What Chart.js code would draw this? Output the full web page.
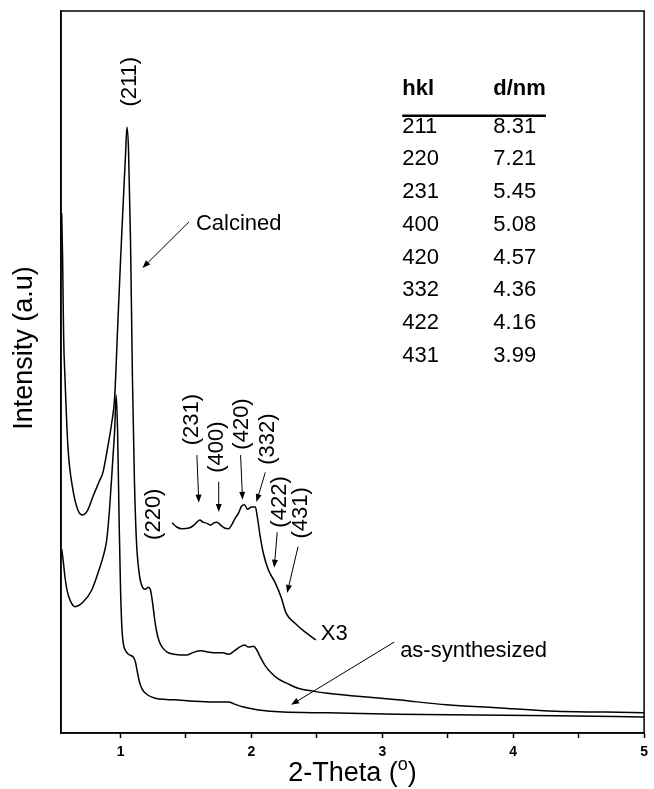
<!DOCTYPE html>
<html>
<head>
<meta charset="utf-8">
<script src="https://cdn.jsdelivr.net/npm/chart.js@4.4.0/dist/chart.umd.min.js"></script>
<style>
  html, body { margin: 0; padding: 0; background: #fff; }
  canvas { display: block; }
</style>
</head>
<body>
<canvas id="xrdChart" width="654" height="789"></canvas>
<script>
// 2-theta (deg) / intensity (a.u., plotted on a 0-100 scale)
const calcinedX = [0.55, 0.557, 0.565, 0.576, 0.598, 0.636, 0.674, 0.712, 0.750, 0.788, 0.841, 0.864, 0.902, 0.932, 0.955,
  0.977, 1.000, 1.023, 1.038, 1.049, 1.061, 1.076, 1.091, 1.106, 1.121, 1.144, 1.167, 1.189, 1.212, 1.227, 1.242, 1.258,
  1.273, 1.295, 1.318, 1.356, 1.409, 1.462, 1.508, 1.561, 1.614, 1.674, 1.727, 1.780, 1.826, 1.871, 1.909, 1.947, 1.977,
  2.015, 2.038, 2.068, 2.106, 2.152, 2.205, 2.280, 2.356, 2.470, 2.583, 2.811, 3.114, 3.492, 3.871, 4.326, 4.705, 5.0];
const calcinedY = [72, 66, 55, 48.9, 39.6, 33.7, 30.9, 30.2, 30.9, 32.7, 35.0, 36.0, 39.6, 42.9, 46.5,
  55.8, 65.5, 74.5, 80.1, 83.9, 80.7, 68.3, 48.9, 35.0, 26.7, 21.9, 20.2, 19.9, 20.2, 19.9, 18.4, 16.1,
  14.3, 12.7, 11.9, 11.2, 10.9, 10.8, 10.8, 11.2, 11.4, 11.2, 11.1, 11.1, 10.9, 11.4, 11.9, 12.2, 11.9,
  12.0, 11.6, 10.5, 9.3, 8.3, 7.5, 6.8, 6.2, 5.8, 5.5, 5.1, 4.6, 3.9, 3.5, 3.0, 2.9, 2.8];

const asSynthX = [0.55, 0.561, 0.576, 0.591, 0.614, 0.652, 0.712, 0.780, 0.841, 0.871, 0.894, 0.917, 0.939, 0.955, 0.966,
  0.977, 0.989, 1.000, 1.011, 1.023, 1.038, 1.061, 1.083, 1.098, 1.114, 1.129, 1.144, 1.167, 1.197, 1.235, 1.295, 1.409,
  1.561, 1.712, 1.826, 1.871, 1.939, 2.053, 2.242, 2.583, 3.114, 3.720, 4.326, 5.0];
const asSynthY = [25.5, 24.0, 21.5, 19.8, 18.4, 17.5, 18.1, 19.8, 22.9, 24.7, 26.7, 31.3, 37.4, 42.0, 46.8,
  42.0, 29.5, 19.8, 14.3, 12.2, 11.4, 10.9, 10.7, 10.5, 9.8, 8.4, 7.1, 6.0, 5.4, 5.0, 4.7, 4.6,
  4.4, 4.3, 4.3, 4.0, 3.6, 3.2, 2.9, 2.8, 2.6, 2.5, 2.4, 2.2];

// calcined pattern between 1.4 and 2.5 deg, magnified x3 and offset
const x3X = [1.394, 1.432, 1.470, 1.523, 1.561, 1.583, 1.606, 1.629, 1.652, 1.689, 1.712, 1.735, 1.765, 1.795, 1.826,
  1.848, 1.871, 1.902, 1.924, 1.947, 1.970, 2.000, 2.030, 2.045, 2.068, 2.091, 2.129, 2.182, 2.227, 2.265, 2.333, 2.409, 2.492];
const x3Y = [29.1, 28.5, 28.3, 28.4, 28.8, 29.2, 29.5, 29.2, 29.1, 28.8, 29.1, 29.2, 28.8, 28.4, 28.3,
  28.8, 29.6, 30.5, 31.4, 31.6, 31.0, 31.3, 31.3, 29.9, 27.1, 24.9, 22.6, 20.8, 18.8, 16.6, 15.2, 14.0, 12.9];

const xTicks = [1, 1.5, 2, 2.5, 3, 3.5, 4, 4.5, 5];

// peak labels: text, label centre (x, y), arrow start, arrow end
const peakNames = ['(211)', '(220)', '(231)', '(400)', '(420)', '(332)', '(422)', '(431)'];
const peakLabelX = [1.068, 1.258, 1.545, 1.735, 1.924, 2.129, 2.220, 2.379];
const peakLabelY = [90.2, 30.3, 43.4, 39.6, 42.8, 40.7, 32.0, 30.5];
const peakArrows = [null, null,
  [1.583, 38.5, 1.598, 31.9],
  [1.750, 34.8, 1.750, 30.6],
  [1.917, 38.5, 1.932, 32.3],
  [2.106, 36.1, 2.038, 32.0],
  [2.197, 27.8, 2.174, 22.9],
  [2.356, 25.8, 2.273, 19.4]];

// inset table
const hklRows = ['211', '220', '231', '400', '420', '332', '422', '431'];
const dRows = ['8.31', '7.21', '5.45', '5.08', '4.57', '4.36', '4.16', '3.99'];

const FONT = 'Arial, "Liberation Sans", Helvetica, sans-serif';

function toPoints(xs, ys) {
  return xs.map((x, i) => ({ x: x, y: ys[i] }));
}

function drawArrow(ctx, x1, y1, x2, y2) {
  const ang = Math.atan2(y2 - y1, x2 - x1);
  const len = 8, half = 3;
  ctx.beginPath();
  ctx.moveTo(x1, y1);
  ctx.lineTo(x2 - Math.cos(ang) * len * 0.6, y2 - Math.sin(ang) * len * 0.6);
  ctx.stroke();
  ctx.beginPath();
  ctx.moveTo(x2, y2);
  ctx.lineTo(x2 - Math.cos(ang) * len - Math.sin(ang) * half, y2 - Math.sin(ang) * len + Math.cos(ang) * half);
  ctx.lineTo(x2 - Math.cos(ang) * len + Math.sin(ang) * half, y2 - Math.sin(ang) * len - Math.cos(ang) * half);
  ctx.closePath();
  ctx.fill();
}

const annotations = {
  id: 'annotations',
  afterDraw(chart) {
    const ctx = chart.ctx;
    const xs = chart.scales.x, ys = chart.scales.y;
    const px = v => xs.getPixelForValue(v);
    const py = v => ys.getPixelForValue(v);
    const area = chart.chartArea;

    ctx.save();
    ctx.strokeStyle = '#000';
    ctx.fillStyle = '#000';

    // frame
    ctx.lineWidth = 1.5;
    ctx.strokeRect(area.left, area.top, area.right - area.left, area.bottom - area.top);

    // axis titles
    ctx.font = '27px ' + FONT;
    ctx.textBaseline = 'middle';
    ctx.textAlign = 'center';
    ctx.save();
    ctx.translate(25, 348);
    ctx.rotate(-Math.PI / 2);
    ctx.fillText('Intensity (a.u)', 0, 0);
    ctx.restore();

    ctx.textBaseline = 'alphabetic';
    ctx.textAlign = 'left';
    const t1 = '2-Theta (', t2 = 'o', t3 = ')';
    ctx.font = '27px ' + FONT;
    const w1 = ctx.measureText(t1).width, w3 = ctx.measureText(t3).width;
    ctx.font = '18px ' + FONT;
    const w2 = ctx.measureText(t2).width;
    let tx = (area.left + area.right) / 2 - (w1 + w2 + w3) / 2;
    ctx.font = '27px ' + FONT;
    ctx.fillText(t1, tx, 781);
    ctx.font = '18px ' + FONT;
    ctx.fillText(t2, tx + w1, 770);
    ctx.font = '27px ' + FONT;
    ctx.fillText(t3, tx + w1 + w2, 781);

    // peak labels and arrows
    ctx.font = '22px ' + FONT;
    ctx.textAlign = 'center';
    ctx.textBaseline = 'middle';
    peakNames.forEach((name, i) => {
      ctx.save();
      ctx.translate(px(peakLabelX[i]), py(peakLabelY[i]));
      ctx.rotate(-Math.PI / 2);
      ctx.fillText(name, 0, 0);
      ctx.restore();
    });
    ctx.lineWidth = 1;
    peakArrows.forEach(a => {
      if (a) drawArrow(ctx, px(a[0]), py(a[1]), px(a[2]), py(a[3]));
    });

    // curve labels
    ctx.textAlign = 'left';
    ctx.textBaseline = 'alphabetic';
    ctx.fillText('Calcined', px(1.576), py(69.7));
    drawArrow(ctx, px(1.523), py(70.8), px(1.167), py(64.4));
    ctx.fillText('as-synthesized', px(3.136), py(10.5));
    drawArrow(ctx, px(3.091), py(12.6), px(2.303), py(3.9));
    ctx.fillText('X3', px(2.530), py(12.9));

    // inset table
    const col1 = px(3.152), col2 = px(3.848), top = py(88.4);
    ctx.font = 'bold 22px ' + FONT;
    ctx.fillText('hkl', col1, top);
    ctx.fillText('d/nm', col2, top);
    const wHead = ctx.measureText('d/nm').width;
    ctx.lineWidth = 2.5;
    ctx.beginPath();
    ctx.moveTo(col1, top + 21);
    ctx.lineTo(col2 + wHead, top + 21);
    ctx.stroke();
    ctx.font = '22px ' + FONT;
    hklRows.forEach((h, i) => {
      const y = top + 38 + i * 32.7;
      ctx.fillText(h, col1, y);
      ctx.fillText(dRows[i], col2, y);
    });

    ctx.restore();
  }
};

const lineStyle = {
  borderColor: '#000',
  borderWidth: 1.5,
  pointRadius: 0,
  fill: false,
  tension: 0.25,
  cubicInterpolationMode: 'monotone'
};

new Chart(document.getElementById('xrdChart'), {
  type: 'line',
  data: {
    datasets: [
      Object.assign({ label: 'Calcined', data: toPoints(calcinedX, calcinedY) }, lineStyle),
      Object.assign({ label: 'as-synthesized', data: toPoints(asSynthX, asSynthY) }, lineStyle),
      Object.assign({ label: 'X3', data: toPoints(x3X, x3Y) }, lineStyle)
    ]
  },
  options: {
    responsive: false,
    animation: false,
    layout: { padding: { top: 11, right: 5, left: 0, bottom: 0 } },
    plugins: {
      legend: { display: false },
      tooltip: { enabled: false }
    },
    scales: {
      x: {
        type: 'linear',
        min: 0.545,
        max: 5,
        afterBuildTicks: scale => { scale.ticks = xTicks.map(v => ({ value: v })); },
        afterFit: scale => { scale.height = 56; },
        grid: { drawOnChartArea: false, drawTicks: true, tickLength: 5, tickColor: '#000', tickWidth: 1.5 },
        border: { display: true, color: '#000', width: 1.5 },
        ticks: {
          color: '#000',
          padding: 6,
          maxRotation: 0,
          autoSkip: false,
          font: { family: FONT, size: 14, weight: 'bold' },
          callback: v => (Number.isInteger(v) ? String(v) : '')
        }
      },
      y: {
        min: 0,
        max: 100,
        afterFit: scale => { scale.width = 61; },
        grid: { display: false },
        border: { display: true, color: '#000', width: 1.5 },
        ticks: { display: false }
      }
    }
  },
  plugins: [annotations]
});
</script>
</body>
</html>
